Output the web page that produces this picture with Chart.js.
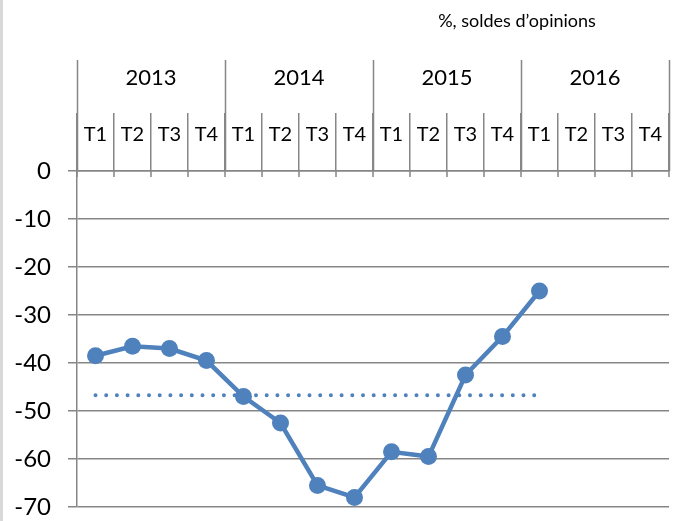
<!DOCTYPE html>
<html>
<head>
<meta charset="utf-8">
<script src="https://cdn.jsdelivr.net/npm/chart.js@4/dist/chart.umd.min.js"></script>
<style>
  html, body { margin: 0; padding: 0; background: #fff; }
  #wrap { position: relative; width: 680px; height: 521px; }
  #edge { position: absolute; left: 0; top: 0; width: 3px; height: 521px; background: #d9d9d9; }
  canvas { position: absolute; left: 0; top: 0; }
</style>
</head>
<body>
<div id="wrap">
  <canvas id="chart" width="680" height="521"></canvas>
  <div id="edge"></div>
</div>
<script>
const QUARTERS = ['T1', 'T2', 'T3', 'T4', 'T1', 'T2', 'T3', 'T4', 'T1', 'T2', 'T3', 'T4', 'T1', 'T2', 'T3', 'T4'];
const YEARS = ['2013', '2014', '2015', '2016'];
const SOLDES = [-38.5, -36.5, -37, -39.5, -47, -52.5, -65.5, -68, -58.5, -59.5, -42.5, -34.5, -25];
const MOYENNE = [-46.7, -46.7, -46.7, -46.7, -46.7, -46.7, -46.7, -46.7, -46.7, -46.7, -46.7, -46.7, -46.7];
const Y_MIN = -70;
const Y_MAX = 0;
const Y_STEP = 10;
const TITLE = '%, soldes d\u2019opinions';

const BLUE = '#4f81bd';
const GRID = '#868686';
const FONT = 'Lato, "Open Sans", sans-serif';

// year row, year separators and the small ticks under the 0 line
const headerPlugin = {
  id: 'header',
  afterDraw(chart) {
    const ctx = chart.ctx;
    const x = chart.scales.x;
    const top = chart.chartArea.top;
    const half = (x.getPixelForValue(1) - x.getPixelForValue(0)) / 2;
    const edge = (i) => x.getPixelForValue(i) - half;

    ctx.save();
    ctx.strokeStyle = GRID;
    ctx.lineWidth = 1.5;
    for (let i = 0; i <= QUARTERS.length; i++) {
      ctx.beginPath();
      ctx.moveTo(edge(i), top);
      ctx.lineTo(edge(i), top + 6);
      ctx.stroke();
    }
    for (let y = 0; y <= YEARS.length; y++) {
      const px = Math.round(edge(y * 4)) + 0.5;
      ctx.beginPath();
      ctx.moveTo(px, 60);
      ctx.lineTo(px, top);
      ctx.stroke();
    }

    ctx.fillStyle = '#000';
    ctx.textAlign = 'center';
    ctx.textBaseline = 'middle';
    ctx.font = '22px ' + FONT;
    YEARS.forEach((year, y) => {
      ctx.fillText(year, (edge(y * 4) + edge(y * 4 + 4)) / 2, 78);
    });

    ctx.font = '18px ' + FONT;
    ctx.fillText(TITLE, 517, 21);
    ctx.restore();
  }
};

new Chart(document.getElementById('chart'), {
  type: 'line',
  data: {
    labels: QUARTERS,
    datasets: [{
      label: 'Soldes',
      data: SOLDES,
      borderColor: BLUE,
      backgroundColor: BLUE,
      borderWidth: 4.5,
      pointRadius: 8.5,
      pointBorderWidth: 0,
      pointBackgroundColor: BLUE,
      tension: 0,
      order: 1
    }, {
      label: 'Moyenne',
      data: MOYENNE,
      borderColor: BLUE,
      borderWidth: 4,
      borderDash: [0, 10.7],
      borderCapStyle: 'round',
      pointRadius: 0,
      tension: 0,
      order: 2
    }]
  },
  options: {
    responsive: false,
    animation: false,
    layout: { padding: { top: 0, right: 11, bottom: 14, left: 0 } },
    plugins: {
      legend: { display: false },
      tooltip: { enabled: false }
    },
    scales: {
      x: {
        position: 'top',
        offset: true,
        grid: {
          offset: true,
          drawOnChartArea: false,
          color: GRID,
          lineWidth: 1.5,
          tickLength: 58
        },
        border: { color: GRID, width: 1.5 },
        ticks: {
          color: '#000',
          font: { family: FONT, size: 20 },
          padding: -34,
          maxRotation: 0,
          autoSkip: false
        },
        afterFit(scale) {
          scale.height = 171;
          scale.paddingLeft = 0;
          scale.paddingRight = 0;
        }
      },
      y: {
        min: Y_MIN,
        max: Y_MAX,
        grid: { color: GRID, lineWidth: 1.5, tickLength: 9 },
        border: { color: GRID, width: 1.5 },
        ticks: {
          stepSize: Y_STEP,
          color: '#000',
          font: { family: FONT, size: 24 },
          padding: 17
        },
        afterFit(scale) {
          scale.width = 77;
          scale.paddingTop = 0;
          scale.paddingBottom = 0;
        }
      }
    }
  },
  plugins: [headerPlugin]
});
</script>
</body>
</html>
